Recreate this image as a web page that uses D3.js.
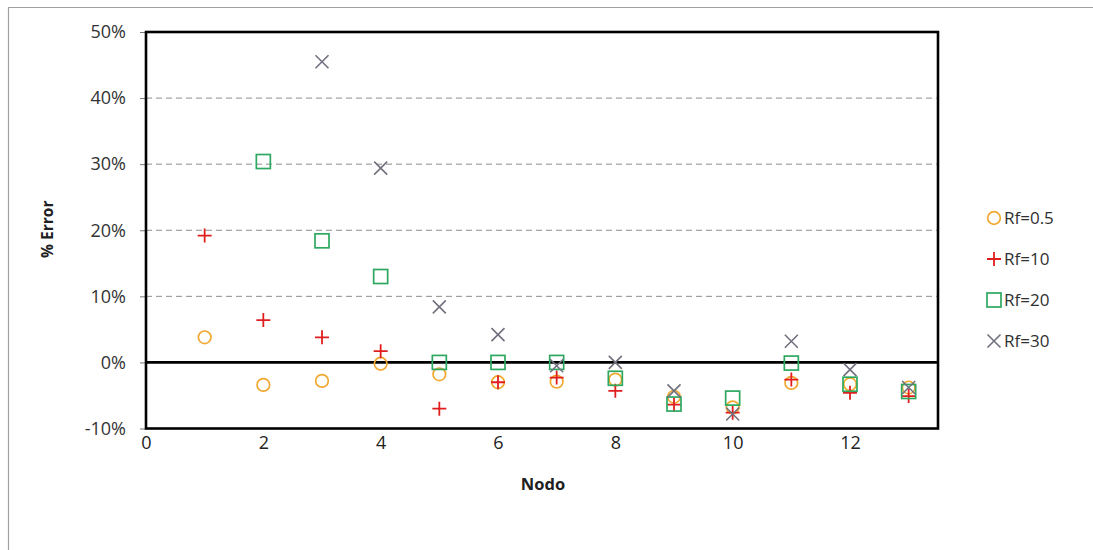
<!DOCTYPE html>
<html><head><meta charset="utf-8">
<script src="https://cdn.jsdelivr.net/npm/d3@7"></script>
<style>body{margin:0;background:#fff;} svg{display:block;}</style>
</head><body>
<svg id="c" width="1093" height="550"></svg>
<script>
const nodes = [1,2,3,4,5,6,7,8,9,10,11,12,13];
const rf05 = [3.8,-3.4,-2.8,-0.2,-1.8,-3.0,-2.9,-2.6,-5.2,-6.8,-3.1,-3.3,-3.8];
const rf10 = [19.2,6.4,3.8,1.7,-7.0,-3.0,-2.3,-4.3,-6.4,-7.6,-2.6,-4.6,-5.1];
const rf20 = [null,30.4,18.4,13.0,0,0,0,-2.4,-6.3,-5.4,-0.1,-3.3,-4.4];
const rf30 = [null,null,45.5,29.4,8.4,4.2,-0.5,0,-4.3,-7.8,3.2,-1.1,-3.8];
const seriesNames = ["Rf=0.5","Rf=10","Rf=20","Rf=30"];
const xTicks = [0,2,4,6,8,10,12];
const yTicks = [-10,0,10,20,30,40,50];

const svg = d3.select("#c");
const font = "'Open Sans', sans-serif";
const L=146, R=938, T=32, B=428.5;
const x = d3.scaleLinear().domain([0,13.5]).range([L,R]);
const y = d3.scaleLinear().domain([-10,50]).range([B,T]);

// outer border
svg.append("path").attr("d","M8.5,550 V7.5 H1093").attr("fill","none").attr("stroke","#a0a0a0").attr("stroke-width",1.2);

// gridlines
svg.append("g").selectAll("line").data(yTicks.filter(v=>v>0 && v<50)).join("line")
  .attr("x1",L).attr("x2",R).attr("y1",d=>y(d)).attr("y2",d=>y(d))
  .attr("stroke","#8c8c8c").attr("stroke-width",1).attr("stroke-dasharray","6,4");

// y axis
const ya = svg.append("g").attr("transform",`translate(${L},0)`)
  .call(d3.axisLeft(y).tickValues(yTicks).tickFormat(d=>d+"%").tickSize(6).tickPadding(14));
ya.select(".domain").remove();
ya.selectAll("line").attr("stroke","#777").attr("stroke-width",1);
ya.selectAll("text").attr("font-family",font).attr("font-size",18).attr("font-weight",500).attr("fill","#333");

// x axis labels
const xa = svg.append("g").attr("transform",`translate(0,${B})`)
  .call(d3.axisBottom(x).tickValues(xTicks).tickSize(0).tickPadding(8));
xa.select(".domain").remove();
xa.selectAll("text").attr("font-family",font).attr("font-size",18).attr("font-weight",500).attr("fill","#222");

// frame
svg.append("rect").attr("x",L).attr("y",T).attr("width",R-L).attr("height",B-T)
  .attr("fill","none").attr("stroke","#000").attr("stroke-width",2.6);
// zero line
svg.append("line").attr("x1",L).attr("x2",R).attr("y1",y(0)).attr("y2",y(0)).attr("stroke","#000").attr("stroke-width",2.6);

// axis titles
svg.append("text").attr("x",(L+R)/2+1).attr("y",490).attr("text-anchor","middle")
  .attr("font-family",font).attr("font-size",16.5).attr("font-weight",700).attr("fill","#202020").text("Nodo");
svg.append("text").attr("transform",`translate(53,${(T+B)/2-1}) rotate(-90)`).attr("text-anchor","middle")
  .attr("font-family",font).attr("font-size",15.5).attr("font-weight",700).attr("fill","#202020").text("% Error");

const colors = ["#F0A830","#E01E1E","#2EA860","#70707e"];
function marker(g, type, cx, cy){
  const c = colors[type];
  if(type===0){
    g.append("circle").attr("cx",cx).attr("cy",cy).attr("r",6.3).attr("fill","none").attr("stroke",c).attr("stroke-width",1.7);
  } else if(type===1){
    const s=7;
    g.append("path").attr("d",`M${cx-s},${cy}H${cx+s}M${cx},${cy-s}V${cy+s}`).attr("stroke",c).attr("stroke-width",1.8).attr("fill","none");
  } else if(type===2){
    const s=7;
    g.append("rect").attr("x",cx-s).attr("y",cy-s).attr("width",2*s).attr("height",2*s).attr("fill","none").attr("stroke",c).attr("stroke-width",1.7);
  } else {
    const s=6.5;
    g.append("path").attr("d",`M${cx-s},${cy-s}L${cx+s},${cy+s}M${cx-s},${cy+s}L${cx+s},${cy-s}`).attr("stroke",c).attr("stroke-width",1.6).attr("fill","none");
  }
}
const all = [rf05,rf10,rf20,rf30];
const mg = svg.append("g");
all.forEach((arr,si)=>{
  nodes.forEach((n,i)=>{ if(arr[i]!==null) marker(mg, si, x(n), y(arr[i])); });
});

// legend
const ly = [218,259,300,341];
seriesNames.forEach((nm,i)=>{
  marker(svg, i, 994, ly[i]);
  svg.append("text").attr("x",1004).attr("y",ly[i]).attr("dy","0.35em")
    .attr("font-family",font).attr("font-size",17).attr("fill","#303030").text(nm);
});
</script>
</body></html>
